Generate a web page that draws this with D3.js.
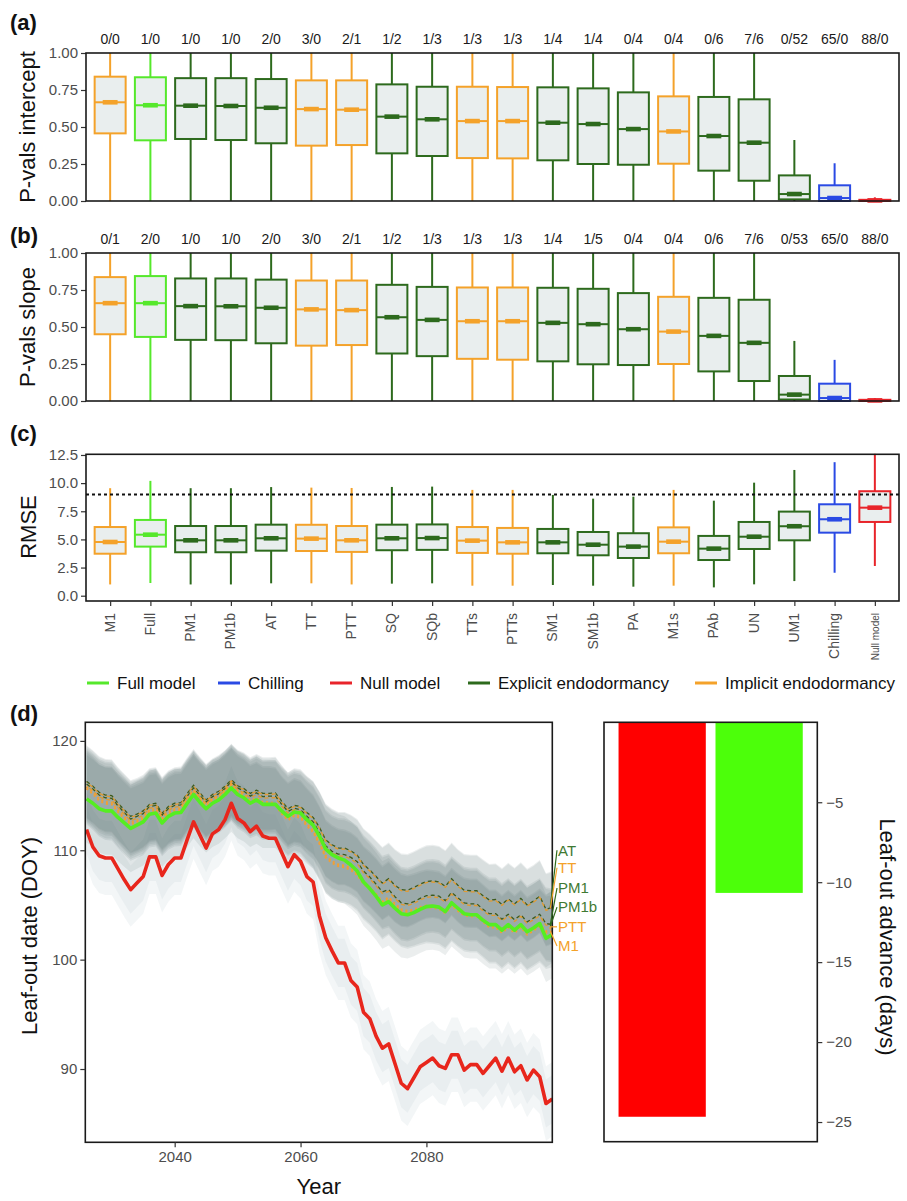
<!DOCTYPE html>
<html>
<head>
<meta charset="utf-8">
<script src="https://cdn.jsdelivr.net/npm/d3@7"></script>
<style>
  body { margin: 0; background: #fff; }
  svg { display: block; font-family: "Liberation Sans", Arial, sans-serif; }
</style>
</head>
<body>
<div id="chart"></div>
<script>
// ---- data ----
const models = ["M1", "Full", "PM1", "PM1b", "AT", "TT", "PTT", "SQ", "SQb", "TTs", "PTTs",
  "SM1", "SM1b", "PA", "M1s", "PAb", "UN", "UM1", "Chilling", "Null model"];
const modelGroup = ["implicit", "full", "explicit", "explicit", "explicit", "implicit", "implicit",
  "explicit", "explicit", "implicit", "implicit", "explicit", "explicit", "explicit", "implicit",
  "explicit", "explicit", "explicit", "chilling", "null"];

const interceptCounts = ["0/0", "1/0", "1/0", "1/0", "2/0", "3/0", "2/1", "1/2", "1/3", "1/3", "1/3",
  "1/4", "1/4", "0/4", "0/4", "0/6", "7/6", "0/52", "65/0", "88/0"];
const slopeCounts = ["0/1", "2/0", "1/0", "1/0", "2/0", "3/0", "2/1", "1/2", "1/3", "1/3", "1/3",
  "1/4", "1/5", "0/4", "0/4", "0/6", "7/6", "0/53", "65/0", "88/0"];

// [lower whisker, q1, median, q3, upper whisker]
const interceptStats = [
  [0, 0.457, 0.667, 0.840, 1], [0, 0.410, 0.647, 0.836, 1], [0, 0.419, 0.644, 0.830, 1],
  [0, 0.412, 0.642, 0.830, 1], [0, 0.390, 0.630, 0.824, 1], [0, 0.374, 0.621, 0.815, 1],
  [0, 0.378, 0.617, 0.815, 1], [0, 0.322, 0.570, 0.788, 1], [0, 0.304, 0.552, 0.772, 1],
  [0, 0.290, 0.540, 0.772, 1], [0, 0.288, 0.540, 0.770, 1], [0, 0.275, 0.529, 0.768, 1],
  [0, 0.250, 0.520, 0.761, 1], [0, 0.245, 0.486, 0.734, 1], [0, 0.252, 0.470, 0.707, 1],
  [0, 0.205, 0.439, 0.703, 1], [0, 0.137, 0.394, 0.687, 1], [0, 0.011, 0.047, 0.173, 0.412],
  [0, 0.000, 0.020, 0.106, 0.255], [0, 0.000, 0.004, 0.008, 0.025]
];
const slopeStats = [
  [0, 0.451, 0.661, 0.837, 1], [0, 0.433, 0.661, 0.844, 1], [0, 0.413, 0.641, 0.828, 1],
  [0, 0.411, 0.640, 0.828, 1], [0, 0.390, 0.630, 0.820, 1], [0, 0.374, 0.619, 0.814, 1],
  [0, 0.378, 0.614, 0.814, 1], [0, 0.321, 0.566, 0.785, 1], [0, 0.303, 0.548, 0.771, 1],
  [0, 0.285, 0.539, 0.767, 1], [0, 0.279, 0.539, 0.767, 1], [0, 0.268, 0.528, 0.765, 1],
  [0, 0.248, 0.519, 0.758, 1], [0, 0.243, 0.485, 0.729, 1], [0, 0.250, 0.469, 0.704, 1],
  [0, 0.200, 0.440, 0.697, 1], [0, 0.135, 0.393, 0.684, 1], [0, 0.010, 0.043, 0.169, 0.406],
  [0, 0.000, 0.020, 0.117, 0.278], [0, 0.000, 0.004, 0.008, 0.020]
];
const rmseStats = [
  [1.00, 3.73, 4.77, 6.10, 9.55], [1.13, 4.36, 5.42, 6.73, 10.20], [1.00, 3.86, 4.92, 6.19, 9.55],
  [1.00, 3.86, 4.92, 6.19, 9.55], [1.10, 4.00, 5.10, 6.31, 9.65], [1.10, 3.97, 5.07, 6.30, 9.60],
  [1.00, 3.89, 4.92, 6.19, 9.57], [1.07, 4.04, 5.10, 6.31, 9.66], [1.10, 4.07, 5.12, 6.33, 9.69],
  [0.89, 3.80, 4.89, 6.10, 9.40], [0.89, 3.73, 4.74, 6.02, 9.40], [0.95, 3.77, 4.74, 5.93, 8.95],
  [0.89, 3.59, 4.53, 5.66, 8.62], [0.80, 3.35, 4.36, 5.55, 8.80], [0.89, 3.77, 4.80, 6.07, 9.40],
  [0.74, 3.17, 4.18, 5.31, 8.44], [1.01, 4.15, 5.24, 6.55, 10.04], [1.30, 4.92, 6.17, 7.47, 11.17],
  [2.04, 5.60, 6.79, 8.12, 11.86], [2.64, 6.55, 7.82, 9.28, 12.60]
];
const rmseThreshold = 9;

const pvalTicks = [0, 0.25, 0.5, 0.75, 1];
const rmseTicks = [0, 2.5, 5, 7.5, 10, 12.5];

const legendItems = ["Full model", "Chilling", "Null model", "Explicit endodormancy", "Implicit endodormancy"];
const legendGroups = ["full", "chilling", "null", "explicit", "implicit"];

// panel (d): projected leaf-out dates 2026-2100
const years = d3.range(2026, 2101);
const nullDoy = [111.9, 110.3, 109.5, 109.3, 109.3, 108.3, 107.3, 106.4, 107.0, 107.6,
  109.4, 109.4, 107.7, 108.7, 109.3, 109.3, 111.0, 112.6, 111.4, 110.2,
  111.5, 111.9, 112.8, 114.3, 112.9, 112.5, 111.7, 112.2, 111.3, 111.1,
  111.1, 109.8, 108.5, 109.6, 109.0, 107.6, 107.1, 104.0, 102.0, 100.8,
  99.7, 99.7, 98.1, 97.5, 95.2, 94.6, 93.0, 91.9, 92.3, 90.5,
  88.7, 88.2, 89.2, 90.2, 90.6, 91.0, 90.3, 90.05, 91.3, 91.3,
  89.9, 90.4, 90.4, 89.6, 90.3, 91.0, 89.8, 91.0, 89.75, 90.3,
  89.0, 89.9, 89.3, 86.85, 87.25];
const fullDoy = [114.7, 114.3, 113.8, 113.6, 113.6, 113.0, 112.5, 112.0, 112.3, 112.6,
  113.3, 113.4, 112.5, 113.1, 113.4, 113.45, 114.3, 115.1, 114.4, 113.8,
  114.3, 114.6, 115.1, 115.7, 115.1, 114.8, 114.3, 114.6, 114.2, 114.2,
  114.2, 113.6, 113.1, 113.5, 113.4, 112.8, 112.3, 111.3, 110.1, 109.6,
  109.3, 109.1, 108.65, 108.1, 107.1, 106.5, 105.8, 105.0, 105.3, 104.7,
  104.2, 104.1, 104.3, 104.6, 104.85, 104.9, 104.8, 104.4, 105.2, 104.7,
  104.2, 104.1, 104.1, 103.6, 103.2, 103.2, 102.7, 103.2, 102.7, 103.2,
  102.55, 102.9, 103.3, 101.95, 102.3];
const atDoy = [116.3, 115.85, 115.3, 115.05, 115.0, 114.3, 113.7, 113.1, 113.3, 113.6,
  114.2, 114.3, 113.4, 114.0, 114.3, 114.35, 115.2, 115.95, 115.25, 114.6,
  115.1, 115.4, 115.85, 116.45, 115.9, 115.65, 115.2, 115.5, 115.2, 115.2,
  115.25, 114.5, 113.8, 114.1, 114.0, 113.45, 113.0, 112.1, 110.95, 110.5,
  110.2, 110.2, 109.95, 109.55, 108.7, 108.2, 107.6, 107.0, 107.4, 106.8,
  106.4, 106.35, 106.6, 106.9, 107.15, 107.2, 107.1, 106.7, 107.4, 106.8,
  106.35, 106.3, 106.3, 105.85, 105.45, 105.5, 105.05, 105.55, 105.1, 105.6,
  105.0, 105.35, 105.8, 104.6, 104.8];
const ttDoy = [116.2, 115.75, 115.2, 114.95, 114.9, 114.2, 113.6, 113.0, 113.2, 113.5,
  114.1, 114.2, 113.3, 113.9, 114.2, 114.25, 115.1, 115.85, 115.15, 114.5,
  115.0, 115.3, 115.75, 116.35, 115.8, 115.55, 115.1, 115.4, 115.1, 115.1,
  115.15, 114.4, 113.7, 114.0, 113.9, 113.35, 112.9, 112.0, 110.85, 110.4,
  110.1, 110.1, 109.85, 109.45, 108.6, 108.1, 107.5, 106.9, 107.3, 106.7,
  106.3, 106.25, 106.5, 106.8, 107.05, 107.1, 107.0, 106.6, 107.3, 106.7,
  106.25, 106.2, 106.2, 105.75, 105.35, 105.4, 104.95, 105.45, 105.0, 105.5,
  104.9, 105.25, 105.7, 104.5, 104.7];
const pm1Doy = [116.05, 115.6, 115.05, 114.8, 114.75, 114.05, 113.45, 112.85, 113.1, 113.35,
  114.0, 114.1, 113.2, 113.8, 114.1, 114.15, 114.95, 115.7, 115.0, 114.4,
  114.9, 115.15, 115.65, 116.25, 115.7, 115.4, 114.95, 115.25, 114.9, 114.95,
  114.95, 114.2, 113.55, 113.85, 113.7, 113.1, 112.6, 111.6, 110.4, 109.9,
  109.65, 109.6, 109.35, 108.95, 108.1, 107.55, 106.9, 106.2, 106.4, 105.75,
  105.2, 105.1, 105.3, 105.6, 105.85, 105.9, 105.8, 105.4, 106.15, 105.65,
  105.2, 105.1, 105.1, 104.6, 104.2, 104.2, 103.7, 104.15, 103.65, 104.1,
  103.45, 103.8, 104.15, 103.3, 103.2];
const pm1bDoy = [115.9, 115.45, 114.9, 114.65, 114.6, 113.9, 113.3, 112.7, 112.95, 113.2,
  113.85, 113.95, 113.05, 113.65, 113.95, 114.0, 114.8, 115.55, 114.85, 114.25,
  114.75, 115.0, 115.5, 116.1, 115.55, 115.25, 114.8, 115.1, 114.75, 114.8,
  114.8, 114.05, 113.4, 113.7, 113.55, 112.95, 112.45, 111.45, 110.25, 109.75,
  109.5, 109.45, 109.2, 108.8, 107.95, 107.4, 106.75, 106.05, 106.25, 105.6,
  105.05, 104.95, 105.15, 105.45, 105.7, 105.75, 105.65, 105.25, 106.0, 105.5,
  105.05, 104.95, 104.95, 104.45, 104.05, 104.05, 103.55, 104.0, 103.5, 103.95,
  103.3, 103.65, 104.0, 103.15, 103.05];
const pttDoy = [115.8, 115.3, 114.7, 114.4, 114.35, 113.65, 113.05, 112.5, 112.75, 113.0,
  113.7, 113.8, 112.9, 113.5, 113.8, 113.85, 114.7, 115.5, 114.8, 114.2,
  114.7, 115.0, 115.5, 116.1, 115.45, 115.1, 114.55, 114.8, 114.4, 114.4,
  114.3, 113.5, 112.9, 113.3, 113.1, 112.4, 111.8, 110.75, 109.5, 109.0,
  108.7, 108.6, 108.35, 107.9, 107.1, 106.6, 106.0, 105.3, 105.7, 105.1,
  104.6, 104.45, 104.6, 104.8, 104.95, 104.9, 104.8, 104.4, 105.1, 104.6,
  104.2, 104.1, 104.1, 103.6, 103.1, 103.1, 102.6, 103.1, 102.6, 103.1,
  102.45, 102.8, 103.2, 102.6, 103.0];
const m1Doy = [115.65, 115.15, 114.55, 114.25, 114.2, 113.5, 112.9, 112.35, 112.6, 112.85,
  113.55, 113.65, 112.75, 113.35, 113.65, 113.7, 114.55, 115.35, 114.65, 114.05,
  114.55, 114.85, 115.35, 115.95, 115.3, 114.95, 114.4, 114.65, 114.25, 114.25,
  114.15, 113.35, 112.75, 113.15, 112.95, 112.25, 111.65, 110.6, 109.35, 108.85,
  108.55, 108.45, 108.2, 107.75, 106.95, 106.45, 105.85, 105.15, 105.55, 104.95,
  104.45, 104.3, 104.45, 104.65, 104.8, 104.75, 104.65, 104.25, 104.95, 104.45,
  104.05, 103.95, 103.95, 103.45, 102.95, 102.95, 102.45, 102.95, 102.45, 102.95,
  102.3, 102.65, 103.05, 102.45, 102.6];

// half widths of the uncertainty ribbons (days)
const clusterBandHalf = 3.3;
const fullBandHalf = 4.0;
const nullBandHalf = [2.2, 3.4];

const endLabels = ["AT", "TT", "PM1", "PM1b", "PTT", "M1"];
const endLabelGroup = ["explicit", "implicit", "explicit", "explicit", "implicit", "implicit"];
const endLabelDoy = [110.0, 108.4, 106.55, 104.8, 103.0, 101.25];
const doyTicks = [90, 100, 110, 120];
const yearTicks = [2040, 2060, 2080];

const advanceModels = ["Null model", "Full model"];
const advanceDays = [-24.67, -10.67];
const advanceTicks = [-5, -10, -15, -20, -25];

// ---- styles ----
const groupColor = {
  full: "#55e82b", chilling: "#2a4ae4", null: "#e8242a",
  explicit: "#2d6a1d", implicit: "#f4a22a"
};
const boxFill = "#e9eeee";
const textGray = "#4d4d4d";

const svg = d3.select("#chart").append("svg").attr("width", 907).attr("height", 1201);

function styleAxis(sel, size) {
  sel.select(".domain").remove();
  sel.selectAll(".tick line").attr("stroke", "#333").attr("stroke-width", 1.2);
  sel.selectAll(".tick text").attr("fill", textGray).style("font-size", size + "px");
}

// ---- box plot panels ----
const x = d3.scalePoint().domain(models).range([86, 899]).padding(0.6);
const boxW = 31;

function boxPanel(stats, top, bottom, domain, ticks, fmt) {
  const y = d3.scaleLinear().domain(domain).range([bottom, top]);
  const g = svg.append("g");
  g.append("g").attr("transform", "translate(86,0)")
    .call(d3.axisLeft(y).tickValues(ticks).tickFormat(fmt).tickSize(5).tickPadding(3))
    .call(s => styleAxis(s, 15));

  models.forEach((m, i) => {
    const [lo, q1, med, q3, hi] = stats[i];
    const c = groupColor[modelGroup[i]];
    const cx = x(m);
    g.append("line").attr("x1", cx).attr("x2", cx).attr("y1", y(hi)).attr("y2", y(q3))
      .attr("stroke", c).attr("stroke-width", 2);
    g.append("line").attr("x1", cx).attr("x2", cx).attr("y1", y(q1)).attr("y2", y(lo))
      .attr("stroke", c).attr("stroke-width", 2);
    g.append("rect").attr("x", cx - boxW / 2).attr("y", y(q3))
      .attr("width", boxW).attr("height", Math.max(y(q1) - y(q3), 0.5))
      .attr("fill", boxFill).attr("stroke", c).attr("stroke-width", 2);
    g.append("line").attr("x1", cx - boxW / 2).attr("x2", cx + boxW / 2)
      .attr("y1", y(med)).attr("y2", y(med)).attr("stroke", c).attr("stroke-width", 2);
    g.append("rect").attr("x", cx - boxW * 0.24).attr("y", y(med) - 2.3)
      .attr("width", boxW * 0.48).attr("height", 4.6).attr("fill", c);
  });

  g.append("rect").attr("x", 86).attr("y", top).attr("width", 899 - 86).attr("height", bottom - top)
    .attr("fill", "none").attr("stroke", "#1a1a1a").attr("stroke-width", 1.6);
  return { g, y };
}

function countRow(counts, baseline) {
  svg.append("g").selectAll("text").data(counts).join("text")
    .attr("x", (d, i) => x(models[i])).attr("y", baseline)
    .attr("text-anchor", "middle").style("font-size", "14px").attr("fill", "#1a1a1a")
    .text(d => d);
}

function yTitle(label, cx, cy, rot) {
  svg.append("text").attr("transform", `translate(${cx},${cy}) rotate(${rot})`)
    .attr("text-anchor", "middle").attr("dy", "0.35em")
    .style("font-size", "22px").attr("fill", "#111").text(label);
}

function panelTag(label, yBase) {
  svg.append("text").attr("x", 10).attr("y", yBase).style("font-size", "22px")
    .style("font-weight", "bold").attr("fill", "#111").text(label);
}

const fmt2 = d3.format(".2f");
const fmt1 = d3.format(".1f");

// (a)
panelTag("(a)", 30);
countRow(interceptCounts, 44);
boxPanel(interceptStats, 53, 201, [0, 1], pvalTicks, fmt2);
yTitle("P-vals intercept", 27, 127, -90);

// (b)
panelTag("(b)", 243);
countRow(slopeCounts, 244);
boxPanel(slopeStats, 253, 401, [0, 1], pvalTicks, fmt2);
yTitle("P-vals slope", 27, 327, -90);

// (c)
panelTag("(c)", 441);
const pc = boxPanel(rmseStats, 454.3, 601, [-0.47, 12.56], rmseTicks, fmt1);
pc.g.append("line").attr("x1", 86).attr("x2", 899)
  .attr("y1", pc.y(rmseThreshold)).attr("y2", pc.y(rmseThreshold))
  .attr("stroke", "#111").attr("stroke-width", 2).attr("stroke-dasharray", "3,3");
// redraw boxes' outline over dashed line is not needed; draw axis at bottom
const xAxisC = svg.append("g").attr("transform", "translate(0,601)")
  .call(d3.axisBottom(x).tickSize(5).tickPadding(3).tickFormat(""))
  .call(s => styleAxis(s, 14));
xAxisC.selectAll(".tick").append("text")
  .attr("transform", "translate(4,12) rotate(-90)")
  .attr("text-anchor", "end").attr("fill", textGray)
  .style("font-size", d => d === "Null model" ? "10px" : "14px")
  .attr("dy", "0em")
  .text(d => d);
yTitle("RMSE", 28, 527, -90);

// legend
const legendKeyX = [87, 218, 330, 468, 695];
const legend = svg.append("g").attr("transform", "translate(0,683)");
legendItems.forEach((name, i) => {
  legend.append("line").attr("x1", legendKeyX[i]).attr("x2", legendKeyX[i] + 22)
    .attr("y1", 0).attr("y2", 0).attr("stroke", groupColor[legendGroups[i]]).attr("stroke-width", 3);
  legend.append("text").attr("x", legendKeyX[i] + 30).attr("y", 0).attr("dy", "0.35em")
    .style("font-size", "17px").attr("fill", "#111").text(name);
});

// ---- (d) time series ----
panelTag("(d)", 721);
const dL = 85.3, dR = 552.3, dT = 722.3, dB = 1142.3;
const xd = d3.scaleLinear().domain([2025.8, 2100]).range([dL, dR]);
const yd = d3.scaleLinear().domain([83.3, 121.7]).range([dB, dT]);

svg.append("clipPath").attr("id", "clipD").append("rect")
  .attr("x", dL).attr("y", dT).attr("width", dR - dL).attr("height", dB - dT);
const gd = svg.append("g").attr("clip-path", "url(#clipD)");

const band = half => d3.area().x((d, i) => xd(years[i]))
  .y0(d => yd(d - half)).y1(d => yd(d + half));

nullBandHalf.forEach(h => {
  gd.append("path").datum(nullDoy).attr("d", band(h))
    .attr("fill", "#c3d2d6").attr("fill-opacity", 0.2);
});
const clusterSeries = [atDoy, ttDoy, pm1Doy, pm1bDoy, pttDoy, m1Doy];
clusterSeries.forEach(s => {
  gd.append("path").datum(s).attr("d", band(clusterBandHalf))
    .attr("fill", "#5b7676").attr("fill-opacity", 0.12);
});
gd.append("path").datum(fullDoy).attr("d", band(fullBandHalf))
  .attr("fill", "#5b7676").attr("fill-opacity", 0.12);

const line = d3.line().x((d, i) => xd(years[i])).y(d => yd(d));

gd.append("path").datum(nullDoy).attr("d", line).attr("fill", "none")
  .attr("stroke", "#e8261c").attr("stroke-width", 3.6).attr("stroke-linejoin", "round");

const dashStyle = [
  { s: atDoy, c: "#3d5a1c", dash: "4,3" },
  { s: ttDoy, c: "#e39a2e", dash: "4,3", off: 3.5 },
  { s: pm1Doy, c: "#3d5a1c", dash: "4,3" },
  { s: pm1bDoy, c: "#e39a2e", dash: "4,3", off: 3.5 },
  { s: pttDoy, c: "#f0a036", dash: "2,3" },
  { s: m1Doy, c: "#f0a036", dash: "2,3" }
];
dashStyle.forEach(d => {
  gd.append("path").datum(d.s).attr("d", line).attr("fill", "none")
    .attr("stroke", d.c).attr("stroke-width", d.dash === "2,3" ? 2.2 : 1.3)
    .attr("stroke-dasharray", d.dash).attr("stroke-dashoffset", d.off || 0);
});

gd.append("path").datum(fullDoy).attr("d", line).attr("fill", "none")
  .attr("stroke", "#55ee22").attr("stroke-width", 3.6).attr("stroke-linejoin", "round");

svg.append("rect").attr("x", dL).attr("y", dT).attr("width", dR - dL).attr("height", dB - dT)
  .attr("fill", "none").attr("stroke", "#1a1a1a").attr("stroke-width", 1.6);

svg.append("g").attr("transform", `translate(${dL},0)`)
  .call(d3.axisLeft(yd).tickValues(doyTicks).tickSize(5).tickPadding(3))
  .call(s => styleAxis(s, 15));
svg.append("g").attr("transform", `translate(0,${dB})`)
  .call(d3.axisBottom(xd).tickValues(yearTicks).tickFormat(d3.format("d")).tickSize(5).tickPadding(4))
  .call(s => styleAxis(s, 15));

yTitle("Leaf-out date (DOY)", 29, 936, -90);
svg.append("text").attr("x", (dL + dR) / 2).attr("y", 1194).attr("text-anchor", "middle")
  .style("font-size", "22px").attr("fill", "#111").text("Year");

// end-of-line labels
const lastIdx = years.length - 1;
endLabels.forEach((name, i) => {
  const s = clusterSeries[[0, 1, 2, 3, 4, 5][i]];
  const c = groupColor[endLabelGroup[i]];
  svg.append("line").attr("x1", xd(years[lastIdx]) - 2).attr("y1", yd(s[lastIdx]))
    .attr("x2", 557).attr("y2", yd(endLabelDoy[i]))
    .attr("stroke", c).attr("stroke-width", 1.2);
  svg.append("text").attr("x", 558).attr("y", yd(endLabelDoy[i])).attr("dy", "0.35em")
    .style("font-size", "15px").attr("fill", c === groupColor.explicit ? "#3f7a33" : c).text(name);
});

// ---- (d) right: bar chart of advance ----
const bL = 604, bR = 817.3, bT = 722.3, bB = 1141.7;
const xb = d3.scaleBand().domain(advanceModels).range([bL, bR]).paddingInner(0.1).paddingOuter(0.15);
const yb = d3.scaleLinear().domain([-26.23, 0]).range([bB, bT]);
const barColor = ["#ff0000", "#4cff0a"];
svg.append("g").selectAll("rect").data(advanceDays).join("rect")
  .attr("x", (d, i) => xb(advanceModels[i])).attr("width", xb.bandwidth())
  .attr("y", yb(0)).attr("height", d => yb(d) - yb(0))
  .attr("fill", (d, i) => barColor[i]);
svg.append("rect").attr("x", bL).attr("y", bT).attr("width", bR - bL).attr("height", bB - bT)
  .attr("fill", "none").attr("stroke", "#1a1a1a").attr("stroke-width", 1.6);
svg.append("g").attr("transform", `translate(${bR},0)`)
  .call(d3.axisRight(yb).tickValues(advanceTicks).tickSize(5).tickPadding(4))
  .call(s => styleAxis(s, 15));
yTitle("Leaf-out advance (days)", 888, 937, 90);
</script>
</body>
</html>
